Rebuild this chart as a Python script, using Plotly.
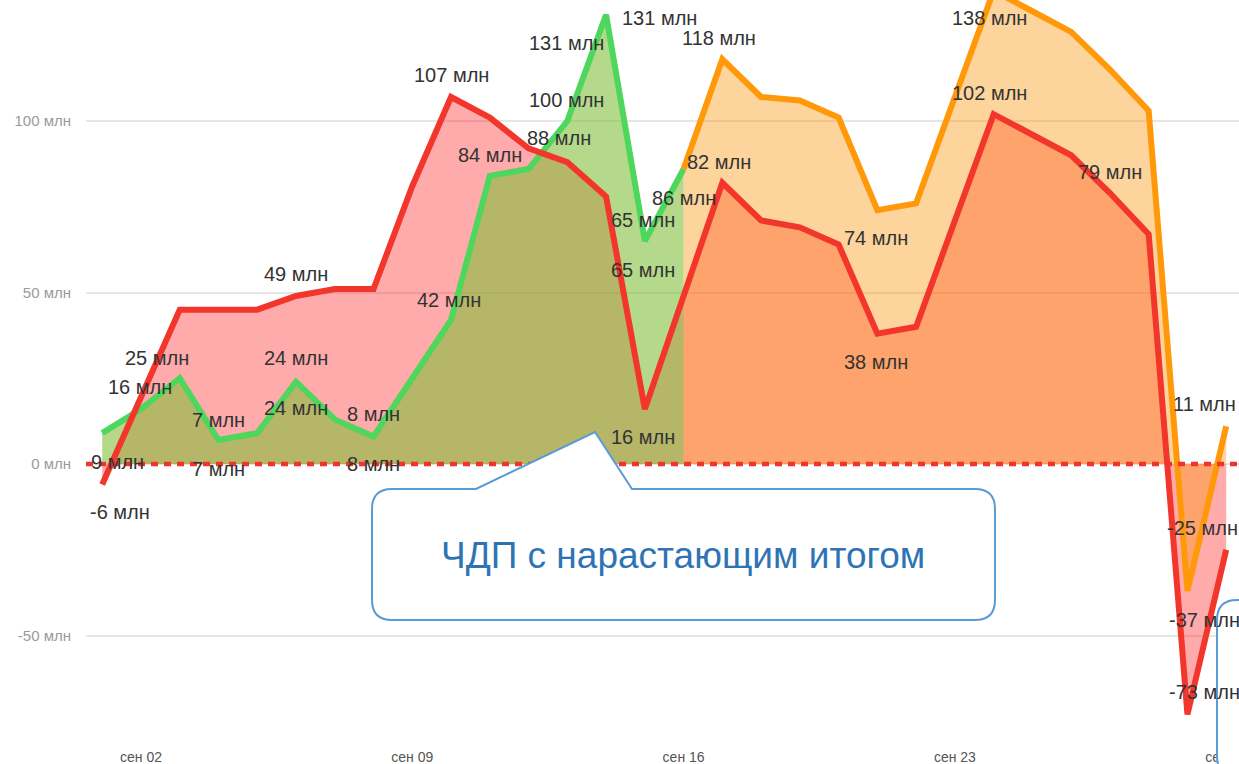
import datetime as dt
import plotly.graph_objects as go

# ---------------- data ----------------
days = list(range(1, 31))
dates = [f"2024-09-{d:02d}" for d in days]

fact_values = [-6, 20, 45, 45, 45, 49, 51, 51, 81, 107, 101, 92, 88, 78, 16,
               49, 82, 71, 69, 64, 38, 40, 71, 102, 96, 90, 79, 67, -73, -25]

plan1_days = days[:16]
plan1_values = [9, 16, 25, 7, 9, 24, 13, 8, 25, 42, 84, 86, 100, 131, 65, 86]

plan2_days = days[15:]
plan2_values = [86, 118, 107, 106, 101, 74, 76, 107, 138, 132, 126, 115, 103, -37, 11]

x_tick_days = [2, 9, 16, 23, 30]
x_tick_labels = ["сен 02", "сен 09", "сен 16", "сен 23", "сен 30"]
y_tick_values = [-50, 0, 50, 100]
y_tick_labels = ["-50 млн", "0 млн", "50 млн", "100 млн"]

callout_text = "ЧДП с нарастающим итогом"

# data labels: which series / which day
label_series = ["plan1", "fact", "plan1", "plan1", "plan1", "plan1", "fact", "plan1", "plan1",
                "plan1", "plan1", "plan1", "fact", "plan1", "plan1", "fact", "plan1", "plan1",
                "plan1", "plan1", "fact", "plan1", "plan2", "fact", "plan2", "fact", "plan2",
                "fact", "fact", "plan2", "fact", "plan2", "fact"]
label_days = [1, 1, 2, 3, 4, 4, 6, 6, 6,
              8, 8, 10, 10, 11, 13, 13, 14, 14,
              15, 15, 15, 16, 17, 17, 21, 21, 24,
              24, 27, 30, 30, 29, 29]
# pixel offsets of the labels (style)
label_offsets = [(15, -29), (18, -27), (-1, 22), (-23, 20), (0, 20), (0, -29), (0, 22), (0, 24), (0, -26),
                 (0, 23), (0, -27), (-2, 20), (0, 22), (0, 21), (-1, 21), (-8, 24), (-40, -28), (53, -3),
                 (-2, 21), (-2, -29), (-2, -28), (0, -29), (-3, 21), (-3, 21), (-1, -28), (-1, -28), (-4, -27),
                 (-4, 21), (0, 21), (-22, 22), (-24, 22), (17, -29), (17, 22)]

# ---------------- geometry / style ----------------
W, H = 1239, 764
M_L, M_R, M_T, M_B = 86, 0, 0, 22
PLOT_W = W - M_L - M_R
PLOT_H = H - M_T - M_B
Y_MAX = 135.28
Y_MIN = -81.05
PX_PER_UNIT = PLOT_H / (Y_MAX - Y_MIN)

x_start = dt.datetime(2024, 9, 1) - dt.timedelta(days=0.418)
x_end = dt.datetime(2024, 9, 1) + dt.timedelta(days=29.33)

RED = "#F3362C"
GREEN = "#4FD65C"
ORANGE = "#FF990A"
FONT = "Liberation Sans, Arial, sans-serif"
LINE_W = 6


def day_to_date(d):
    return f"2024-09-{d:02d}"


def px_to_paper(px, py):
    return (px - M_L) / PLOT_W, 1 - (py - M_T) / PLOT_H


fig = go.Figure()

# area fills
fig.add_trace(go.Scatter(x=dates, y=fact_values, mode="lines", line=dict(width=0),
                         fill="tozeroy", fillcolor="rgba(255,0,0,0.33)", hoverinfo="skip"))
fig.add_trace(go.Scatter(x=[day_to_date(d) for d in plan1_days], y=plan1_values, mode="lines",
                         line=dict(width=0), fill="tozeroy", fillcolor="rgba(130,191,57,0.59)",
                         hoverinfo="skip"))
fig.add_trace(go.Scatter(x=[day_to_date(d) for d in plan2_days], y=plan2_values, mode="lines",
                         line=dict(width=0), fill="tozeroy", fillcolor="rgba(250,153,19,0.42)",
                         hoverinfo="skip"))

# lines
fig.add_trace(go.Scatter(x=[day_to_date(d) for d in plan1_days], y=plan1_values, mode="lines",
                         line=dict(color=GREEN, width=LINE_W)))
fig.add_trace(go.Scatter(x=[day_to_date(d) for d in plan2_days], y=plan2_values, mode="lines",
                         line=dict(color=ORANGE, width=LINE_W)))
fig.add_trace(go.Scatter(x=dates, y=fact_values, mode="lines",
                         line=dict(color=RED, width=LINE_W)))

# data labels
series_map = {
    "fact": dict(zip(days, fact_values)),
    "plan1": dict(zip(plan1_days, plan1_values)),
    "plan2": dict(zip(plan2_days, plan2_values)),
}
annotations = []
for s, d, (xs, ys) in zip(label_series, label_days, label_offsets):
    v = series_map[s][d]
    y_anchor = min(max(v, Y_MIN + 0.01), Y_MAX - 0.01)
    ys_total = ys - (y_anchor - v) * PX_PER_UNIT
    annotations.append(dict(x=day_to_date(d), y=y_anchor, xref="x", yref="y", text=f"{v} млн",
                            showarrow=False, xshift=xs, yshift=ys_total,
                            xanchor="center", yanchor="middle",
                            font=dict(family=FONT, size=20, color="#333333")))

# callout text
cx, cy = px_to_paper(683, 555)
annotations.append(dict(x=cx, y=cy, xref="paper", yref="paper", text=callout_text, showarrow=False,
                        xanchor="center", yanchor="middle",
                        font=dict(family=FONT, size=37, color="#2E74B5")))


def path_from_px(points_cmds):
    parts = []
    for cmd, pts in points_cmds:
        coords = []
        for (px, py) in pts:
            x, y = px_to_paper(px, py)
            coords.append(f"{x:.5f},{y:.5f}")
        parts.append(cmd + " " + " ".join(coords))
    return " ".join(parts) + " Z"


r = 20
bx0, by0, bx1, by1 = 372, 489, 995, 620
bubble = path_from_px([
    ("M", [(bx0 + r, by0)]),
    ("L", [(476, by0)]),
    ("L", [(595, 432)]),
    ("L", [(632, by0)]),
    ("L", [(bx1 - r, by0)]),
    ("Q", [(bx1, by0), (bx1, by0 + r)]),
    ("L", [(bx1, by1 - r)]),
    ("Q", [(bx1, by1), (bx1 - r, by1)]),
    ("L", [(bx0 + r, by1)]),
    ("Q", [(bx0, by1), (bx0, by1 - r)]),
    ("L", [(bx0, by0 + r)]),
    ("Q", [(bx0, by0), (bx0 + r, by0)]),
])
rx0, ry0, rx1, ry1 = 1217, 600, 1270, 776
right_box = path_from_px([
    ("M", [(rx0 + r, ry0)]),
    ("L", [(rx1, ry0)]),
    ("L", [(rx1, ry1)]),
    ("L", [(rx0 + r, ry1)]),
    ("Q", [(rx0, ry1), (rx0, ry1 - r)]),
    ("L", [(rx0, ry0 + r)]),
    ("Q", [(rx0, ry0), (rx0 + r, ry0)]),
])

shapes = [
    dict(type="line", xref="paper", yref="y", x0=0, x1=1, y0=0, y1=0, layer="above",
         line=dict(color="#F0342C", width=4.5, dash="7px,6px")),
    dict(type="path", xref="paper", yref="paper", path=bubble, layer="above",
         fillcolor="white", line=dict(color="#5B9BD5", width=2)),
    dict(type="path", xref="paper", yref="paper", path=right_box, layer="above",
         fillcolor="white", line=dict(color="#5B9BD5", width=2)),
]

fig.update_layout(
    width=W, height=H,
    margin=dict(l=M_L, r=M_R, t=M_T, b=M_B, pad=0),
    paper_bgcolor="white", plot_bgcolor="white",
    showlegend=False,
    hovermode=False,
    annotations=annotations,
    shapes=shapes,
    font=dict(family=FONT),
)
fig.update_xaxes(
    range=[x_start, x_end], type="date",
    tickvals=[day_to_date(d) for d in x_tick_days], ticktext=x_tick_labels,
    showgrid=False, zeroline=False, showline=False, ticks="",
    tickfont=dict(family=FONT, size=14, color="#555555"),
    ticklabelstandoff=5,
    ticklabeloverflow="allow",
    automargin=False,
)
fig.update_yaxes(
    range=[Y_MIN, Y_MAX],
    tickvals=y_tick_values, ticktext=y_tick_labels,
    showgrid=True, gridcolor="#E6E6E6", gridwidth=1.5, zeroline=False, showline=False, ticks="",
    tickfont=dict(family=FONT, size=15, color="#9A9A9A"),
    ticklabelstandoff=14,
    automargin=False,
)

fig.write_html("out.html", config={"displayModeBar": False},
               post_script="document.body.style.margin='0px';document.body.style.overflow='hidden';")
